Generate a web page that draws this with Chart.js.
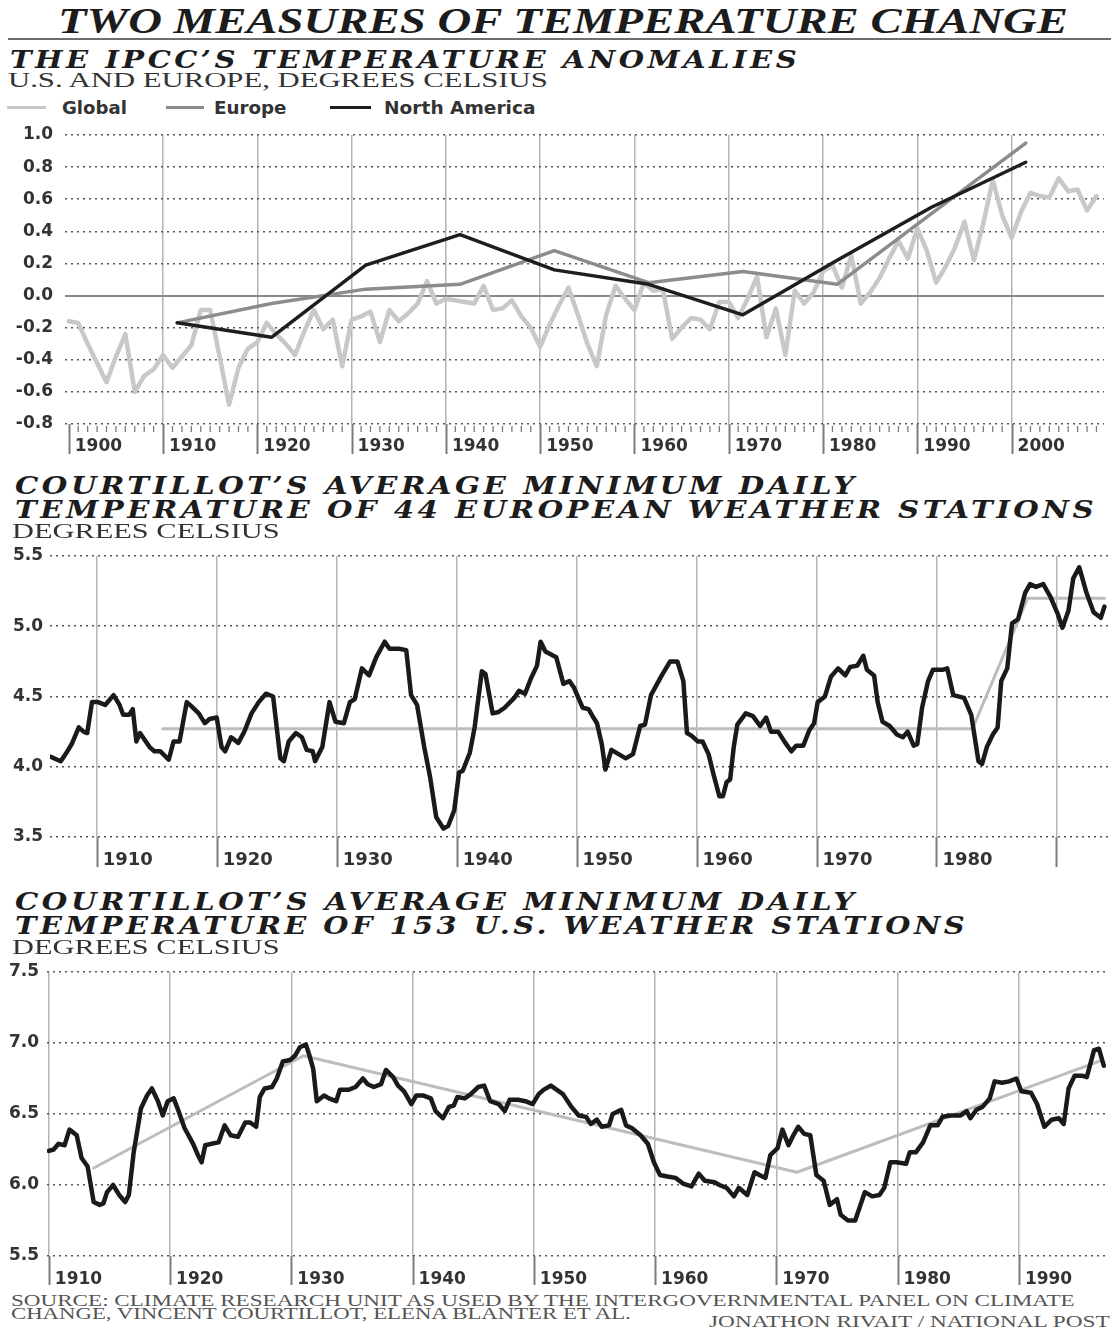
<!DOCTYPE html>
<html>
<head>
<meta charset="utf-8">
<title>Two measures of temperature change</title>
<script src="https://cdn.jsdelivr.net/npm/chart.js@4.4.1/dist/chart.umd.min.js"></script>
<style>
  body { margin: 0; background: #fff; width: 1111px; height: 1329px; position: relative; overflow: hidden; }
  .t { position: absolute; white-space: nowrap; transform-origin: 0 0; color: #222; }
  .head { font: italic bold 35px "Liberation Serif", serif; color: #1c1c1c; }
  .sub { font: italic bold 25px "DejaVu Serif", serif; letter-spacing: 3px; color: #1c1c1c; }
  .unit { font: 22px "Liberation Serif", serif; color: #333; }
  .leg { font: bold 17px "DejaVu Sans", sans-serif; color: #333; }
  .src { font: 17px "Liberation Serif", serif; color: #555; }
  .swatch { position: absolute; height: 3px; }
  .rule { position: absolute; left: 8px; right: 0; top: 38px; height: 2px; background: #6e6e6e; }
  .box { position: absolute; left: 0; width: 1111px; }
</style>
</head>
<body>
<div class="rule"></div>
<div class="swatch" style="left:7px;width:39px;top:106px;background:#c8c8c8"></div>
<div class="swatch" style="left:166px;width:38px;top:106px;background:#8c8c8c"></div>
<div class="swatch" style="left:330px;width:41px;top:106px;background:#1e1e1e"></div>
<div class="box" style="top:120px;height:345px"><canvas id="ipcc" width="1111" height="345"></canvas></div>
<div class="box" style="top:540px;height:340px"><canvas id="europe" width="1111" height="340"></canvas></div>
<div class="box" style="top:955px;height:335px"><canvas id="us" width="1111" height="335"></canvas></div>

<script>
// IPCC anomalies, degrees C
var globalYears = [1900,1901,1902,1903,1904,1905,1906,1907,1908,1909,
  1910,1911,1912,1913,1914,1915,1916,1917,1918,1919,
  1920,1921,1922,1923,1924,1925,1926,1927,1928,1929,
  1930,1931,1932,1933,1934,1935,1936,1937,1938,1939,
  1940,1941,1942,1943,1944,1945,1946,1947,1948,1949,
  1950,1951,1952,1953,1954,1955,1956,1957,1958,1959,
  1960,1961,1962,1963,1964,1965,1966,1967,1968,1969,
  1970,1971,1972,1973,1974,1975,1976,1977,1978,1979,
  1980,1981,1982,1983,1984,1985,1986,1987,1988,1989,
  1990,1991,1992,1993,1994,1995,1996,1997,1998,1999,
  2000,2001,2002,2003,2004,2005,2006,2007,2008,2009];
var globalAnom = [-0.16,-0.17,-0.30,-0.42,-0.54,-0.38,-0.24,-0.60,-0.50,-0.46,
  -0.37,-0.45,-0.38,-0.31,-0.09,-0.09,-0.38,-0.68,-0.45,-0.33,
  -0.29,-0.17,-0.24,-0.30,-0.37,-0.22,-0.09,-0.21,-0.15,-0.44,
  -0.15,-0.13,-0.10,-0.29,-0.09,-0.16,-0.11,-0.05,0.09,-0.05,
  -0.02,-0.03,-0.04,-0.05,0.06,-0.09,-0.08,-0.03,-0.13,-0.20,
  -0.32,-0.18,-0.06,0.05,-0.12,-0.30,-0.44,-0.12,0.06,-0.02,
  -0.09,0.08,0.03,0.04,-0.27,-0.20,-0.14,-0.15,-0.21,-0.04,
  -0.04,-0.14,-0.02,0.12,-0.26,-0.08,-0.37,0.03,-0.05,0.02,
  0.15,0.19,0.05,0.25,-0.05,0.02,0.11,0.23,0.34,0.23,
  0.42,0.28,0.08,0.18,0.30,0.46,0.22,0.45,0.72,0.50,
  0.36,0.52,0.64,0.62,0.61,0.73,0.65,0.66,0.53,0.62];
var decadeMid = [1911.5,1921.5,1931.5,1941.5,1951.5,1961.5,1971.5,1981.5,1991.5,2001.5];
var europeAnom = [-0.17,-0.05,0.04,0.07,0.28,0.08,0.15,0.07,0.51,0.95];
var northAmAnom = [-0.17,-0.26,0.19,0.38,0.16,0.07,-0.12,0.22,0.55,0.83];
var ipccDecades = [1900,1910,1920,1930,1940,1950,1960,1970,1980,1990,2000];

// 44 European stations, average minimum daily temperature
var euroYears = [1906.2,1906.7,1907.0,1907.4,1907.9,1908.5,1908.9,1909.2,1909.6,1910.1,
  1910.7,1911.4,1911.9,1912.2,1912.7,1913.0,1913.3,1913.6,1914.4,1914.8,
  1915.3,1916.0,1916.4,1916.9,1917.5,1917.9,1918.5,1919.0,1919.4,1920.0,
  1920.4,1920.7,1921.2,1921.8,1922.3,1922.9,1923.5,1924.1,1924.7,1925.3,
  1925.6,1926.0,1926.6,1927.1,1927.5,1928.0,1928.2,1928.8,1929.4,1929.9,
  1930.6,1931.1,1931.5,1932.1,1932.7,1933.3,1934.0,1934.4,1935.2,1935.8,
  1936.2,1936.7,1937.3,1937.8,1938.3,1938.9,1939.3,1939.8,1940.2,1940.5,
  1941.1,1941.5,1942.1,1942.4,1943.0,1943.5,1944.0,1944.8,1945.2,1945.7,
  1946.2,1946.7,1947.0,1947.4,1948.3,1948.9,1949.4,1949.8,1950.5,1951.0,
  1951.4,1951.7,1952.1,1952.4,1952.9,1953.5,1954.1,1954.7,1955.3,1955.7,
  1956.2,1957.1,1957.8,1958.4,1958.9,1959.2,1959.6,1960.1,1960.5,1961.0,
  1961.4,1961.9,1962.2,1962.5,1962.8,1963.1,1963.4,1964.1,1964.7,1965.3,
  1965.8,1966.2,1966.8,1967.4,1967.9,1968.3,1968.9,1969.4,1969.8,1970.1,
  1970.7,1971.2,1971.8,1972.4,1972.8,1973.4,1973.9,1974.2,1974.8,1975.1,
  1975.5,1976.1,1976.7,1977.2,1977.6,1978.1,1978.4,1978.8,1979.3,1979.7,
  1980.5,1980.9,1981.4,1982.3,1982.9,1983.5,1983.8,1984.2,1984.7,1985.1,
  1985.4,1985.9,1986.3,1986.8,1987.4,1987.8,1988.3,1988.9,1989.5,1990.1,
  1990.5,1991.0,1991.4,1991.9,1992.5,1993.1,1993.7,1994.0];
var euroTemps = [4.07,4.05,4.04,4.09,4.16,4.28,4.25,4.24,4.46,4.46,
  4.44,4.51,4.44,4.37,4.37,4.41,4.18,4.24,4.14,4.11,
  4.11,4.05,4.18,4.18,4.46,4.43,4.38,4.31,4.34,4.35,
  4.14,4.11,4.21,4.17,4.25,4.38,4.46,4.52,4.50,4.06,
  4.04,4.18,4.24,4.21,4.12,4.11,4.04,4.14,4.46,4.32,
  4.31,4.46,4.48,4.70,4.65,4.78,4.89,4.84,4.84,4.83,
  4.51,4.44,4.14,3.92,3.64,3.56,3.58,3.69,3.96,3.97,
  4.10,4.28,4.68,4.66,4.38,4.39,4.42,4.49,4.54,4.52,
  4.63,4.72,4.89,4.82,4.78,4.59,4.61,4.56,4.42,4.41,
  4.35,4.31,4.16,3.98,4.12,4.09,4.06,4.09,4.29,4.30,
  4.51,4.65,4.75,4.75,4.61,4.24,4.22,4.18,4.18,4.09,
  3.95,3.79,3.79,3.89,3.91,4.14,4.30,4.38,4.36,4.29,
  4.35,4.25,4.25,4.17,4.11,4.15,4.15,4.26,4.31,4.46,
  4.50,4.64,4.70,4.65,4.71,4.72,4.79,4.69,4.65,4.46,
  4.32,4.29,4.23,4.21,4.25,4.15,4.16,4.42,4.61,4.69,
  4.69,4.70,4.51,4.49,4.37,4.04,4.02,4.14,4.23,4.28,
  4.61,4.70,5.02,5.05,5.24,5.30,5.28,5.30,5.21,5.09,
  4.99,5.11,5.34,5.42,5.24,5.10,5.06,5.14];
var euroStepYears = [1915.5,1983.0,1987.6,1994.0];
var euroStepTemps = [4.27,4.27,5.20,5.20];
var euroDecades = [1910,1920,1930,1940,1950,1960,1970,1980,1990];
var euroLabelled = [1910,1920,1930,1940,1950,1960,1970,1980];

// 153 U.S. stations, average minimum daily temperature
var usYears = [1910.0,1910.4,1910.8,1911.3,1911.7,1912.3,1912.7,1913.2,1913.7,1914.2,
  1914.5,1914.8,1915.3,1915.8,1916.3,1916.6,1917.0,1917.6,1918.1,1918.5,
  1919.0,1919.4,1919.8,1920.3,1920.7,1921.2,1921.9,1922.3,1922.6,1922.9,
  1923.4,1924.0,1924.5,1925.0,1925.6,1926.2,1926.6,1927.1,1927.4,1927.8,
  1928.4,1928.8,1929.3,1929.9,1930.3,1930.7,1931.2,1931.5,1931.8,1932.1,
  1932.7,1933.1,1933.7,1934.0,1934.7,1935.3,1935.9,1936.3,1936.8,1937.4,
  1937.8,1938.4,1938.8,1939.3,1939.9,1940.3,1940.9,1941.5,1941.9,1942.5,
  1943.0,1943.4,1943.7,1944.3,1944.8,1945.4,1945.9,1946.4,1947.1,1947.6,
  1948.0,1948.7,1949.3,1949.9,1950.4,1950.8,1951.4,1952.4,1953.1,1953.7,
  1954.3,1954.7,1955.2,1955.6,1956.2,1956.5,1957.2,1957.6,1958.1,1958.8,
  1959.4,1959.9,1960.4,1961.0,1961.7,1962.3,1963.0,1963.6,1964.1,1964.9,
  1965.3,1965.9,1966.5,1966.9,1967.6,1968.2,1968.6,1969.1,1969.5,1970.1,
  1970.5,1971.0,1971.4,1971.8,1972.3,1972.8,1973.3,1973.9,1974.4,1975.0,
  1975.3,1975.9,1976.5,1976.9,1977.3,1977.9,1978.5,1978.9,1979.4,1979.9,
  1980.7,1981.0,1981.5,1982.1,1982.7,1983.3,1983.7,1984.4,1985.2,1985.7,
  1986.0,1986.5,1987.0,1987.6,1988.0,1988.6,1989.2,1989.8,1990.2,1991.0,
  1991.5,1992.1,1992.7,1993.3,1993.7,1994.1,1994.6,1995.2,1995.6,1996.2,
  1996.6,1997.0];
var usTemps = [6.24,6.25,6.29,6.28,6.39,6.35,6.19,6.13,5.88,5.86,
  5.87,5.95,6.00,5.93,5.88,5.93,6.23,6.54,6.63,6.68,
  6.59,6.49,6.59,6.61,6.52,6.40,6.29,6.21,6.16,6.28,
  6.29,6.30,6.42,6.35,6.34,6.44,6.44,6.41,6.62,6.68,
  6.69,6.75,6.87,6.88,6.91,6.97,6.99,6.91,6.82,6.59,
  6.63,6.61,6.59,6.67,6.67,6.69,6.75,6.71,6.69,6.71,
  6.81,6.76,6.70,6.66,6.57,6.63,6.63,6.61,6.52,6.47,
  6.55,6.56,6.62,6.61,6.64,6.69,6.70,6.59,6.57,6.52,
  6.60,6.60,6.59,6.57,6.64,6.67,6.70,6.64,6.55,6.49,
  6.48,6.43,6.46,6.41,6.42,6.50,6.53,6.42,6.40,6.35,
  6.29,6.16,6.07,6.06,6.05,6.01,5.99,6.08,6.03,6.02,
  6.00,5.98,5.92,5.98,5.93,6.09,6.07,6.05,6.21,6.26,
  6.39,6.28,6.35,6.41,6.36,6.35,6.07,6.03,5.86,5.90,
  5.79,5.75,5.75,5.85,5.95,5.92,5.93,5.98,6.16,6.16,
  6.15,6.23,6.23,6.30,6.42,6.42,6.48,6.49,6.49,6.52,
  6.47,6.53,6.55,6.61,6.73,6.72,6.73,6.75,6.66,6.65,
  6.57,6.41,6.46,6.47,6.43,6.68,6.77,6.77,6.76,6.95,
  6.96,6.84];
var usTrendYears = [1913.7,1931.0,1971.7,1996.6];
var usTrendTemps = [6.12,6.91,6.09,6.87];
var usDecades = [1910,1920,1930,1940,1950,1960,1970,1980,1990];

// headings and notes: [text, class, left, baseline, width]
var texts = [
  ['TWO MEASURES OF TEMPERATURE CHANGE', 'head', 58, 33, 1010],
  ['THE IPCC\u2019S TEMPERATURE ANOMALIES', 'sub', 10, 68, 790],
  ['U.S. AND EUROPE, DEGREES CELSIUS', 'unit', 8, 87, 540],
  ['Global', 'leg', 62, 114, 65],
  ['Europe', 'leg', 214, 114, 72],
  ['North America', 'leg', 384, 114, 152],
  ['COURTILLOT\u2019S AVERAGE MINIMUM DAILY', 'sub', 15, 494, 843],
  ['TEMPERATURE OF 44 EUROPEAN WEATHER STATIONS', 'sub', 15, 518, 1082],
  ['DEGREES CELSIUS', 'unit', 12, 538, 268],
  ['COURTILLOT\u2019S AVERAGE MINIMUM DAILY', 'sub', 15, 910, 843],
  ['TEMPERATURE OF 153 U.S. WEATHER STATIONS', 'sub', 15, 934, 953],
  ['DEGREES CELSIUS', 'unit', 12, 954, 268],
  ['SOURCE: CLIMATE RESEARCH UNIT AS USED BY THE INTERGOVERNMENTAL PANEL ON CLIMATE', 'src', 11, 1306, 1064],
  ['CHANGE, VINCENT COURTILLOT, ELENA BLANTER ET AL.', 'src', 11, 1319, 620],
  ['JONATHON RIVAIT / NATIONAL POST', 'src', 709, 1327, 400]
];

// put text so its baseline lands on y, stretched to the given width
function place(txt, cls, x, base, w) {
  var el = document.createElement('div');
  el.className = 't ' + cls;
  el.textContent = txt;
  var mark = document.createElement('span');
  mark.style.cssText = 'display:inline-block;width:0;height:0';
  el.appendChild(mark);
  document.body.appendChild(el);
  el.style.left = x + 'px';
  el.style.top = (base - mark.offsetTop) + 'px';
  el.style.transform = 'scaleX(' + (w / mark.offsetLeft) + ')';
}
texts.forEach(function (t) { place(t[0], t[1], t[2], t[3], t[4]); });

function pairs(xs, ys) {
  return xs.map(function (x, i) { return { x: x, y: ys[i] }; });
}

// year ticks and decade bars under the x axis
var axisMarks = {
  id: 'axisMarks',
  afterDraw: function (chart, args, opts) {
    var ctx = chart.ctx, x = chart.scales.x, bottom = chart.chartArea.bottom;
    ctx.save();
    ctx.strokeStyle = '#7a7a7a';
    if (opts.minorFrom) {
      ctx.lineWidth = 1.3;
      for (var yr = opts.minorFrom; yr <= opts.minorTo; yr++) {
        if (yr % 10 === 0) continue;
        var p = x.getPixelForValue(yr);
        ctx.beginPath();
        ctx.moveTo(p, bottom + 2);
        ctx.lineTo(p, bottom + 8);
        ctx.stroke();
      }
    }
    ctx.lineWidth = 2;
    opts.bars.forEach(function (d) {
      var p = Math.round(x.getPixelForValue(d)) + 0.5;
      ctx.beginPath();
      ctx.moveTo(p, bottom);
      ctx.lineTo(p, bottom + opts.barLen);
      ctx.stroke();
    });
    ctx.restore();
  }
};

var tickFont = { family: 'DejaVu Sans', weight: 'bold', size: 17 };

function makeScales(cfg) {
  return {
    x: {
      type: 'linear',
      min: cfg.xMin,
      max: cfg.xMax,
      afterBuildTicks: function (s) {
        s.ticks = cfg.decades.map(function (v) { return { value: v }; });
      },
      afterFit: function (s) {
        s.height = cfg.xHeight;
        s.paddingLeft = 0;
        s.paddingRight = 0;
      },
      border: { display: false },
      grid: {
        drawTicks: false,
        lineWidth: 1.5,
        color: function (c) {
          return c.tick && c.tick.value < cfg.gridFrom ? 'rgba(0,0,0,0)' : '#b4b4b4';
        }
      },
      ticks: {
        autoSkip: false,
        maxRotation: 0,
        minRotation: 0,
        align: 'start',
        labelOffset: 6,
        padding: cfg.xPad,
        color: '#333',
        font: { family: 'DejaVu Sans', weight: 'bold', size: cfg.xFont },
        callback: function (v) { return cfg.labelled.indexOf(v) >= 0 ? String(v) : ''; }
      }
    },
    y: {
      min: cfg.yMin,
      max: cfg.yMax,
      afterFit: function (s) {
        // plot edges come from layout padding alone
        s.width = cfg.yWidth;
        s.paddingTop = 0;
        s.paddingBottom = 0;
      },
      border: {
        display: false,
        dash: function (c) {
          return cfg.zeroLine && c.tick && Math.abs(c.tick.value) < 1e-9 ? [] : [2, 4];
        }
      },
      grid: {
        drawTicks: false,
        lineWidth: function (c) {
          return cfg.zeroLine && c.tick && Math.abs(c.tick.value) < 1e-9 ? 2 : 1.6;
        },
        color: function (c) {
          return cfg.zeroLine && c.tick && Math.abs(c.tick.value) < 1e-9 ? '#8a8a8a' : '#555';
        }
      },
      ticks: {
        stepSize: cfg.yStep,
        padding: cfg.yPad,
        color: '#333',
        font: tickFont,
        callback: function (v) { return v.toFixed(1); }
      }
    }
  };
}

function lineSet(data, color, width, order) {
  return {
    data: data,
    borderColor: color,
    borderWidth: width,
    pointRadius: 0,
    tension: 0,
    borderJoinStyle: 'round',
    borderCapStyle: 'round',
    order: order
  };
}

var common = {
  responsive: false,
  animation: false,
  events: [],
  plugins: { legend: { display: false }, tooltip: { enabled: false } }
};

new Chart(document.getElementById('ipcc'), {
  type: 'line',
  data: {
    datasets: [
      lineSet(pairs(globalYears, globalAnom), '#c8c8c8', 4.5, 3),
      lineSet(pairs(decadeMid, europeAnom), '#8c8c8c', 3.5, 2),
      lineSet(pairs(decadeMid, northAmAnom), '#1e1e1e', 3.5, 1)
    ]
  },
  options: Object.assign({}, common, {
    layout: { padding: { top: 15, right: 7, left: 0, bottom: 0 } },
    scales: makeScales({
      xMin: 1899.6, xMax: 2009.8, decades: ipccDecades, labelled: ipccDecades, gridFrom: 1910,
      xHeight: 41, xPad: 12, xFont: 17,
      yMin: -0.8, yMax: 1.0, yStep: 0.2, yWidth: 65, yPad: 12, zeroLine: true
    }),
    plugins: Object.assign({}, common.plugins, {
      axisMarks: { minorFrom: 1900, minorTo: 2009, bars: ipccDecades, barLen: 30 }
    })
  }),
  plugins: [axisMarks]
});

new Chart(document.getElementById('europe'), {
  type: 'line',
  data: {
    datasets: [
      lineSet(pairs(euroStepYears, euroStepTemps), '#bdbdbd', 3, 2),
      lineSet(pairs(euroYears, euroTemps), '#1a1a1a', 4.5, 1)
    ]
  },
  options: Object.assign({}, common, {
    layout: { padding: { top: 16, right: 3, left: 0, bottom: 0 } },
    scales: makeScales({
      xMin: 1906.1, xMax: 1994.3, decades: euroDecades, labelled: euroLabelled, gridFrom: 1900,
      xHeight: 43, xPad: 13, xFont: 18,
      yMin: 3.5, yMax: 5.5, yStep: 0.5, yWidth: 50, yPad: 7, zeroLine: false
    }),
    plugins: Object.assign({}, common.plugins, {
      axisMarks: { bars: euroDecades, barLen: 30 }
    })
  }),
  plugins: [axisMarks]
});

new Chart(document.getElementById('us'), {
  type: 'line',
  data: {
    datasets: [
      lineSet(pairs(usTrendYears, usTrendTemps), '#bdbdbd', 3, 2),
      lineSet(pairs(usYears, usTemps), '#1a1a1a', 4.5, 1)
    ]
  },
  options: Object.assign({}, common, {
    layout: { padding: { top: 17, right: 3, left: 0, bottom: 0 } },
    scales: makeScales({
      xMin: 1909.85, xMax: 1997.35, decades: usDecades, labelled: usDecades, gridFrom: 1900,
      xHeight: 34, xPad: 13, xFont: 17,
      yMin: 5.5, yMax: 7.5, yStep: 0.5, yWidth: 47, yPad: 8, zeroLine: false
    }),
    plugins: Object.assign({}, common.plugins, {
      axisMarks: { bars: usDecades, barLen: 29 }
    })
  }),
  plugins: [axisMarks]
});
</script>
</body>
</html>
